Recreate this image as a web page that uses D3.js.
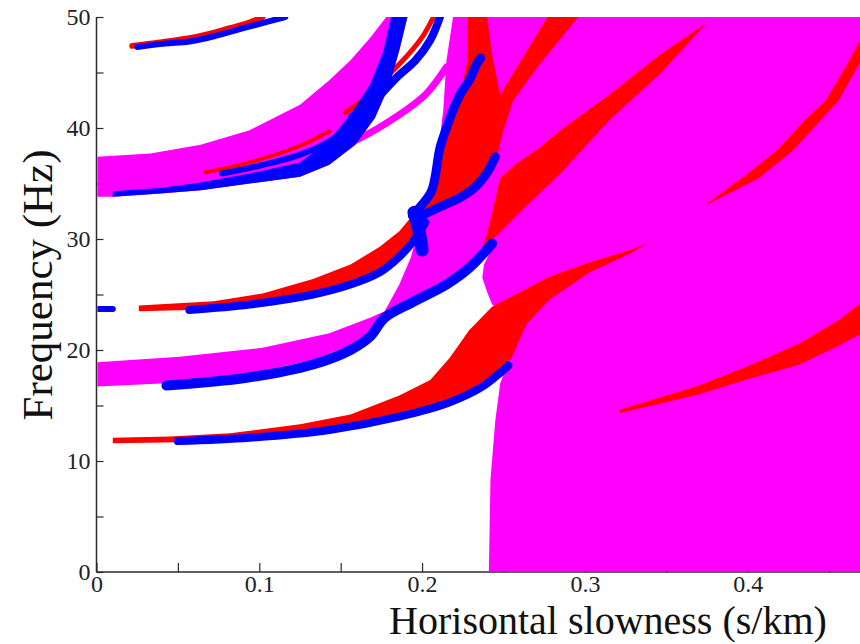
<!DOCTYPE html>
<html>
<head>
<meta charset="utf-8">
<script src="https://cdn.jsdelivr.net/npm/d3@7.9.0/dist/d3.min.js"></script>
<style>
  body { margin: 0; background: #fff; }
  svg { display: block; font-family: "Liberation Serif", "Times New Roman", serif; }
</style>
</head>
<body>
<svg id="chart" width="860" height="644"></svg>
<script>
// region outlines and curves, as [slowness (s/km), frequency (Hz)]
const magentaMain = [[0,18.9],[0.051,19.4],[0.102,20.2],[0.143,21.5],[0.168,22.9],[0.177,23.5],[0.186,25.9],[0.193,28.3],[0.197,30.4],[0.2,32.2],[0.205,34.4],[0.21,38],[0.213,41.6],[0.215,46.1],[0.219,50],[0.469,50],[0.469,0],[0.241,0],[0.242,8.3],[0.245,13.7],[0.248,17],[0.257,20.5],[0.248,23.6],[0.243,24.1],[0.24,25.2],[0.237,26.5],[0.238,27.7],[0.244,29.5],[0.229,27.9],[0.215,26.3],[0.194,24.7],[0.177,23.2],[0.168,21.6],[0.156,20.4],[0.133,19.1],[0.092,17.8],[0.043,17],[0,16.7]];
const magentaUpper = [[0,37.4],[0.033,37.7],[0.064,38.5],[0.094,39.8],[0.125,42.1],[0.143,44.3],[0.156,46.1],[0.168,48.1],[0.178,50],[0.191,50],[0.186,47],[0.18,43.9],[0.171,40.9],[0.159,38.5],[0.143,36.7],[0.125,35.6],[0.094,35],[0.064,34.4],[0.039,34.1],[0.01,33.8],[0,33.8]];
const magentaStreak = [[0.14,37.8],[0.162,39.1],[0.184,41],[0.202,43],[0.215,45.5]];

const redLower = [[0.01,12.1],[0.045,12.2],[0.082,12.5],[0.125,13.3],[0.156,14.2],[0.186,15.9],[0.205,17.3],[0.217,19.3],[0.229,21.8],[0.243,23.9],[0.26,25.2],[0.278,26.6],[0.303,27.9],[0.328,29],[0.338,29.6],[0.328,28.7],[0.303,27],[0.278,24.5],[0.264,22.3],[0.255,19.3],[0.248,18.2],[0.235,16.8],[0.217,15.5],[0.186,14.1],[0.143,12.9],[0.094,12.2],[0.051,11.7],[0.01,11.6]];
const redMid = [[0.026,24],[0.072,24.4],[0.102,25.1],[0.133,26.4],[0.156,27.7],[0.174,29.3],[0.186,30.7],[0.194,32.1],[0.199,33],[0.203,32.3],[0.194,29.9],[0.186,28.5],[0.174,27.1],[0.156,25.9],[0.133,25],[0.094,24.1],[0.057,23.6],[0.026,23.5]];
const redTall = [[0.197,32.2],[0.205,33.5],[0.211,38],[0.219,41.6],[0.224,43.4],[0.228,46.1],[0.228,50],[0.24,50],[0.243,46.6],[0.248,43],[0.26,45.9],[0.277,50],[0.296,50],[0.272,45.7],[0.256,42.5],[0.25,39.8],[0.246,37.4],[0.242,36.4],[0.229,34.6],[0.211,33.1],[0.202,32.3]];
const redShallow = [[0.237,29],[0.242,31.7],[0.248,35.5],[0.257,36.7],[0.272,38.2],[0.285,39.8],[0.315,43],[0.346,46.6],[0.375,49.5],[0.347,45],[0.315,40.7],[0.285,35.9],[0.26,32.4]];
const redUpperRight = [[0.375,33.2],[0.401,36],[0.418,38],[0.435,40.7],[0.448,42.5],[0.459,45.2],[0.469,47.9],[0.469,45.9],[0.456,42.5],[0.428,38],[0.407,35.5],[0.375,33.1]];
const redLowerRight = [[0.321,14.6],[0.37,16.8],[0.401,18.6],[0.432,20.6],[0.456,22.7],[0.469,24.2],[0.469,21.4],[0.456,20.4],[0.432,18.7],[0.401,17.4],[0.37,16],[0.321,14.3]];
const redTop = [[0.022,47.4],[0.039,47.7],[0.064,48.3],[0.082,49],[0.094,49.5],[0.102,50]];
const redStreakUpper = [[0.067,36],[0.094,36.9],[0.125,38.4],[0.143,39.7]];
const redBranch = [[0.153,41.4],[0.168,43],[0.181,45],[0.192,46.7],[0.201,48.4],[0.207,50]];

const blueUpper = [[0.01,33.8],[0.039,34.1],[0.064,34.4],[0.094,35],[0.125,35.6],[0.143,36.7],[0.159,38.5],[0.171,40.9],[0.18,43.9],[0.186,47],[0.191,50],[0.181,50],[0.176,46.8],[0.168,43.9],[0.156,41.2],[0.143,38.9],[0.125,36.9],[0.094,35.9],[0.064,35.1],[0.039,34.6],[0.01,34.3]];
const blueLower = [[0.05,11.8],[0.094,12.1],[0.143,12.8],[0.186,14],[0.217,15.3],[0.237,16.7],[0.253,18.6]];
const blueSecond = [[0.043,16.8],[0.092,17.5],[0.133,18.7],[0.156,20],[0.168,21.2],[0.177,22.9],[0.194,24.3],[0.215,25.9],[0.229,27.4],[0.243,29.6]];
const blueMid = [[0.057,23.6],[0.094,24.1],[0.133,25],[0.156,25.9],[0.174,27],[0.186,28.4],[0.194,29.7],[0.202,31.5]];
const blueDash = [[0.001,23.7],[0.01,23.7]];
const blueKnot = [[0.195,32.4],[0.198,30.8],[0.2,29]];
const blueSteep = [[0.194,32.1],[0.2,33.1],[0.206,34.4],[0.211,38.2],[0.215,40],[0.219,41.6],[0.224,43.2],[0.229,44.3],[0.234,45.9],[0.236,46.3]];
const blueJunction = [[0.2,32.1],[0.211,32.9],[0.223,33.7],[0.232,34.6],[0.24,36],[0.245,37.4]];
const blueInner = [[0.077,35.9],[0.1,36.6],[0.125,37.6],[0.143,38.8],[0.156,40.4]];
const blueBranch = [[0.157,41],[0.171,42.5],[0.184,44.5],[0.196,46.1],[0.205,47.9],[0.211,50]];
const blueTop = [[0.025,47.3],[0.042,47.6],[0.057,47.8],[0.073,48.3],[0.088,48.9],[0.103,49.5],[0.116,50]];

const yTicks = d3.range(0, 51, 5);
const xTicks = [0, 0.05, 0.1, 0.15, 0.2, 0.25, 0.3, 0.35, 0.4, 0.45];

const svg = d3.select("#chart");
const x = d3.scaleLinear().domain([0, 0.469]).range([96.5, 860]);
const y = d3.scaleLinear().domain([0, 50]).range([572, 17]);

const MAGENTA = "#ff00ff", RED = "#ff0000", BLUE = "#0000ff", INK = "#2b2b2b";
const SERIF = '"Liberation Serif", "Times New Roman", serif';

// axes underneath the data, so the ticks disappear under the filled regions
const xAxis = svg.append("g")
  .attr("transform", "translate(0,572)")
  .call(d3.axisBottom(x).tickValues(xTicks).tickSizeInner(-9).tickSizeOuter(0).tickPadding(3)
    .tickFormat((d) => (Math.round(d * 100) % 10 === 0 ? d3.format("~g")(d) : "")));
const yAxis = svg.append("g")
  .attr("transform", "translate(96.5,0)")
  .call(d3.axisLeft(y).tickValues(yTicks).tickSizeInner(-7).tickSizeOuter(0).tickPadding(6)
    .tickFormat((d) => (d % 10 === 0 ? d : "")));

[xAxis, yAxis].forEach((g) => {
  g.attr("font-family", SERIF).attr("font-size", 24);
  g.selectAll("line").attr("stroke", INK).attr("stroke-width", 1.2);
  g.select(".domain").remove();
  g.selectAll("text").attr("fill", "#222");
});

svg.append("clipPath").attr("id", "plot")
  .append("rect").attr("x", 97.5).attr("y", 17).attr("width", 762.5).attr("height", 554);

const plot = svg.append("g").attr("clip-path", "url(#plot)");

const area = d3.line().x((d) => x(d[0])).y((d) => y(d[1])).curve(d3.curveLinearClosed);
const curve = d3.line().x((d) => x(d[0])).y((d) => y(d[1])).curve(d3.curveCatmullRom.alpha(0.5));

function fill(data, color) {
  plot.append("path").datum(data).attr("d", area).attr("fill", color);
}
function stroke(data, color, width) {
  plot.append("path").datum(data).attr("d", curve)
    .attr("fill", "none").attr("stroke", color)
    .attr("stroke-width", width).attr("stroke-linecap", "round").attr("stroke-linejoin", "round");
}

fill(magentaMain, MAGENTA);
fill(magentaUpper, MAGENTA);
stroke(magentaStreak, MAGENTA, 7);

fill(redLower, RED);
fill(redMid, RED);
fill(redTall, RED);
fill(redShallow, RED);
fill(redUpperRight, RED);
fill(redLowerRight, RED);
stroke(redTop, RED, 6);
stroke(redStreakUpper, RED, 4);
stroke(redBranch, RED, 5);

fill(blueUpper, BLUE);
stroke(blueLower, BLUE, 8);
stroke(blueSecond, BLUE, 10);
stroke(blueMid, BLUE, 8);
stroke(blueDash, BLUE, 6);
stroke(blueKnot, BLUE, 13);
stroke(blueSteep, BLUE, 9);
stroke(blueJunction, BLUE, 9);
stroke(blueInner, BLUE, 6);
stroke(blueBranch, BLUE, 8);
stroke(blueTop, BLUE, 6);

// axis lines on top
svg.append("line").attr("x1", 96.5).attr("x2", 96.5).attr("y1", 17).attr("y2", 572)
  .attr("stroke", INK).attr("stroke-width", 1.5);
svg.append("line").attr("x1", 96.5).attr("x2", 860).attr("y1", 572).attr("y2", 572)
  .attr("stroke", INK).attr("stroke-width", 1.5);

svg.append("text")
  .attr("x", 608).attr("y", 634)
  .attr("text-anchor", "middle")
  .attr("fill", "#111")
  .attr("font-family", SERIF)
  .attr("font-size", 40)
  .text("Horisontal slowness (s/km)");

svg.append("text")
  .attr("transform", "translate(52,285) rotate(-90)")
  .attr("text-anchor", "middle")
  .attr("fill", "#111")
  .attr("font-family", SERIF)
  .attr("font-size", 43)
  .text("Frequency (Hz)");
</script>
</body>
</html>
